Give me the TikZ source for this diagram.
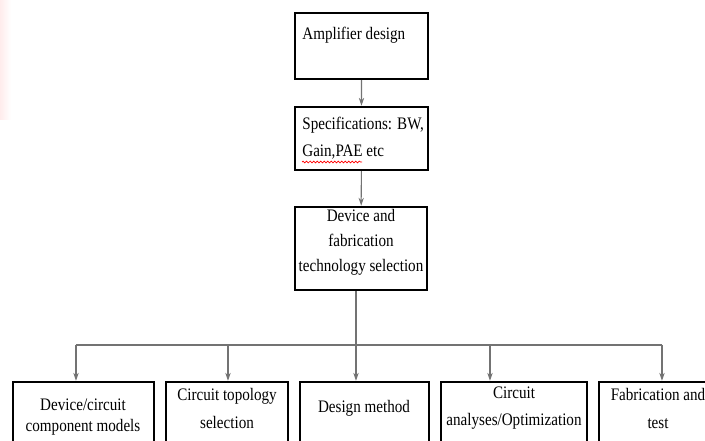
\documentclass[tikz,border=0pt]{standalone}
\usepackage{fontspec}
\setmainfont{Liberation Serif}[FakeStretch=0.86]
\usetikzlibrary{arrows.meta,fit,decorations.pathmorphing}

\begin{document}
\begin{tikzpicture}[scale=0.2]
\tikzstyle{every node}+=[inner sep=0pt]
\tikzstyle{blk}=[draw=black, line width=1.4pt]
\tikzstyle{txt}=[font=\fontsize{10}{14}\selectfont, align=center]
\tikzstyle{wide}=[font=\fontsize{10}{15.4}\selectfont]
\tikzstyle{wire}=[draw=black!55, line width=0.6pt]
\tikzstyle{conn}=[wire, -{Stealth[length=4.5pt,width=3pt]}]
\useasboundingbox (0,0) rectangle (70.5,-44.1);
\clip (0,0) rectangle (70.5,-44.1);
\fill [white] (0,0) rectangle (70.5,-44.1);
\shade [left color=pink!30, right color=white] (0,0) rectangle (1.1,-12);
\node [blk, fit={(29.5,-1.3) (42.8,-7.9)}] (amp) {};
\node [txt, anchor=west] (ampt) at (30.2,-3.5) {Amplifier design};
\node [blk, fit={(29.5,-10.7) (42.8,-17)}] (spec) {};
\node [txt, wide, align=left, anchor=west] (spect) at (30.2,-13.85) {Specifications: BW,\\Gain,PAE etc};
\draw [red, line width=0.4pt, decorate, decoration={snake, amplitude=0.5pt, segment length=2pt}] (30.2,-16.2) -- (36.2,-16.2);
\node [blk, txt, fit={(29.5,-20.7) (42.7,-29)}] (dev) {Device and\\fabrication\\technology selection};
\node [blk, fit={(1.3,-38.2) (15.4,-45.5)}] (m1) {};
\node [blk, fit={(16.6,-38.2) (28.8,-45.5)}] (m2) {};
\node [blk, fit={(30,-38.2) (42.9,-45.5)}] (m3) {};
\node [blk, fit={(44.1,-38.2) (58.7,-45.5)}] (m4) {};
\node [blk, fit={(59.9,-38.2) (71.5,-45.5)}] (m5) {};
\node [txt, font=\fontsize{10}{12}\selectfont] (m1t) at (8.3,-41.75) {Device/circuit\\component models};
\node [txt, wide] (m2t) at (22.7,-40.85) {Circuit topology\\selection};
\node [txt] (m3t) at (36.4,-40.8) {Design method};
\node [txt, wide] (m4t) at (51.4,-40.85) {Circuit\\analyses/Optimization};
\node [txt, wide] (m5t) at (65.8,-40.85) {Fabrication and\\test};
\coordinate (bl) at (7.6,-34.5);
\coordinate (j2) at (22.8,-34.5);
\coordinate (jc) at (35.6,-34.5);
\coordinate (j4) at (49,-34.5);
\coordinate (br) at (66.2,-34.5);
\draw [conn] (amp) -- (spec);
\draw [conn] (spec) -- (dev);
\draw [wire] (dev.south -| jc) -- (jc);
\draw [wire] (bl) -- (br);
\draw [conn] (bl) -- (bl |- m1.north);
\draw [conn] (j2) -- (j2 |- m2.north);
\draw [conn] (jc) -- (jc |- m3.north);
\draw [conn] (j4) -- (j4 |- m4.north);
\draw [conn] (br) -- (br |- m5.north);
\end{tikzpicture}
\end{document}
